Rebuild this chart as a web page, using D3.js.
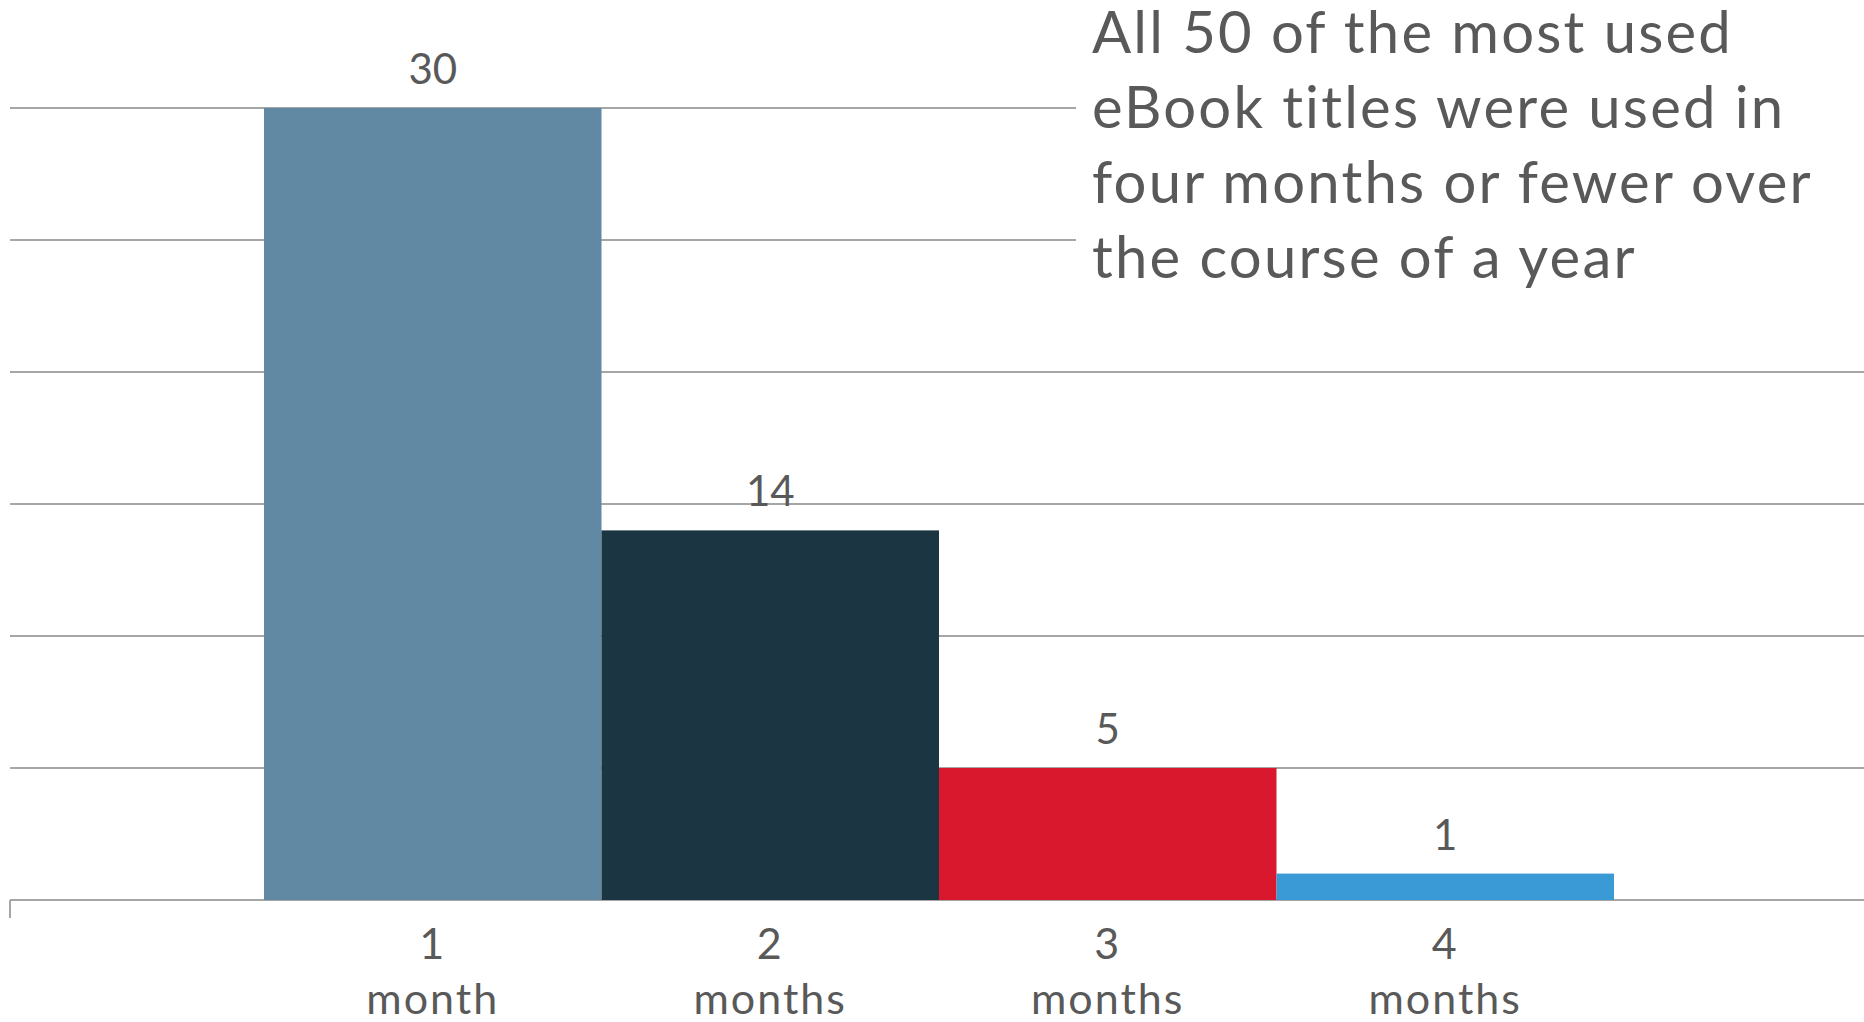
<!DOCTYPE html>
<html>
<head>
<meta charset="utf-8">
<script src="https://cdn.jsdelivr.net/npm/d3@7"></script>
<style>
  body { margin: 0; background: #fff; }
  text { font-family: Lato, "Noto Sans", sans-serif; fill: #595959; }
</style>
</head>
<body>
<div id="content"></div>
<script>
var categories = ['1 month', '2 months', '3 months', '4 months'];
var values = [30, 14, 5, 1];
var colors = ['#6189a3', '#1b3542', '#d9182d', '#3a9ad6'];
var yTicks = [0, 5, 10, 15, 20, 25, 30];
var note = ['All 50 of the most used', 'eBook titles were used in',
  'four months or fewer over', 'the course of a year'];

var width = 1864;
var height = 1022;
var svg = d3.select('#content').append('svg').attr('width', width).attr('height', height);

var x = d3.scaleBand().domain(categories).range([264, 1614]).padding(0);
var y = d3.scaleLinear().domain([0, 30]).range([900, 108]);

// gridlines
svg.append('g').selectAll('line')
  .data(yTicks).enter().append('line')
  .attr('x1', 10).attr('x2', width)
  .attr('y1', function(d){ return y(d) }).attr('y2', function(d){ return y(d) })
  .style('stroke', '#a6a6a6').style('stroke-width', 2)

svg.append('line')
  .attr('x1', 10).attr('x2', 10).attr('y1', y(0)).attr('y2', y(0) + 18)
  .style('stroke', '#a6a6a6').style('stroke-width', 2)

var bars = svg.selectAll('.bars')
  .data(values).enter().append('g')
  .attr('class', 'bars')

bars.append('rect')
  .attr('x', function(d,i){ return x(categories[i]) })
  .attr('y', function(d){ return y(d) })
  .attr('width', x.bandwidth())
  .attr('height', function(d){ return y(0) - y(d) })
  .style('fill', function(d,i){ return colors[i] })

bars.append('text')
  .attr('x', function(d,i){ return x(categories[i]) + x.bandwidth() / 2 })
  .attr('y', function(d){ return y(d) - 24 })
  .style('text-anchor', 'middle')
  .style('font-size', '42px')
  .text(function(d){ return d })

// category labels, two lines each
var cats = svg.selectAll('.cat')
  .data(categories).enter().append('text')
  .attr('class', 'cat')
  .style('text-anchor', 'middle')
  .style('font-size', '43px')
  .style('letter-spacing', '2px')

cats.append('tspan')
  .attr('x', function(d){ return x(d) + x.bandwidth() / 2 })
  .attr('y', 959)
  .text(function(d){ return d.split(' ')[0] })
cats.append('tspan')
  .attr('x', function(d){ return x(d) + x.bandwidth() / 2 })
  .attr('y', 1014)
  .text(function(d){ return d.split(' ')[1] })

// annotation box covers the top gridlines
svg.append('rect')
  .attr('x', 1076).attr('y', 0).attr('width', width - 1076).attr('height', 300)
  .style('fill', '#fff')

svg.append('g').selectAll('text')
  .data(note).enter().append('text')
  .attr('x', 1092)
  .attr('y', function(d,i){ return 53 + i * 75 })
  .style('font-size', '58px')
  .style('letter-spacing', '2.2px')
  .text(function(d){ return d })
</script>
</body>
</html>
